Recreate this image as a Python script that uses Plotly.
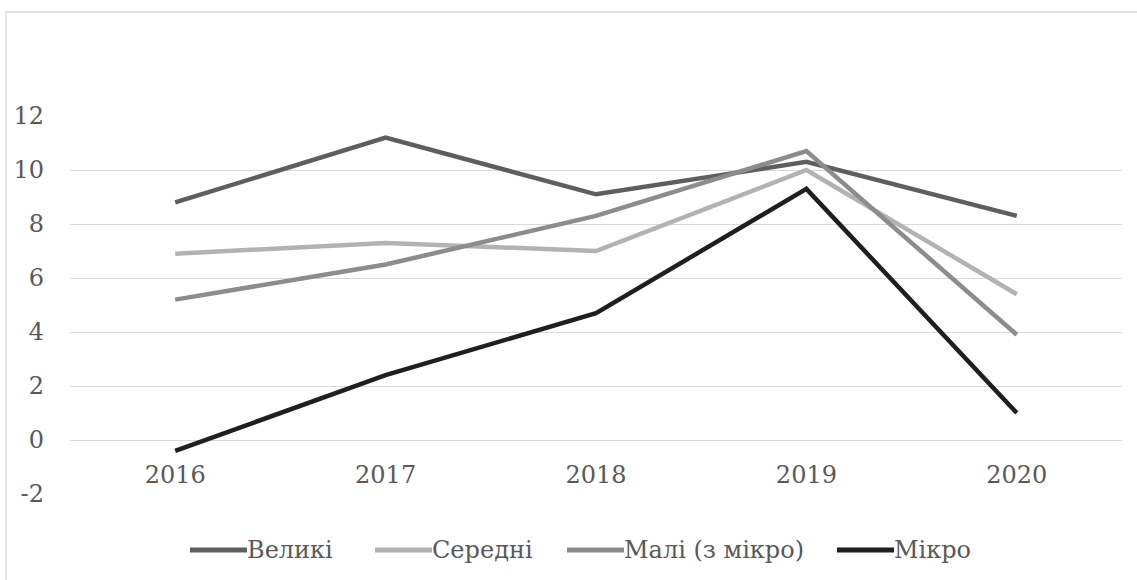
import plotly.graph_objects as go

years = ["2016", "2017", "2018", "2019", "2020"]
velyki = [8.8, 11.2, 9.1, 10.3, 8.3]
seredni = [6.9, 7.3, 7.0, 10.0, 5.4]
mali = [5.2, 6.5, 8.3, 10.7, 3.9]
mikro = [-0.4, 2.4, 4.7, 9.3, 1.0]

y_tickvals = [-2, 0, 2, 4, 6, 8, 10, 12]
y_ticktext = ["-2", "0", "2", "4", "6", "8", "10", "12"]

series_names = ["Великі", "Середні", "Малі (з мікро)", "Мікро"]
series_values = [velyki, seredni, mali, mikro]
series_colors = ["#5e5e5e", "#b2b2b2", "#8c8c8c", "#1f1f1f"]

FONT = "DejaVu Serif"
TXT = "#595959"

fig = go.Figure()
for name, vals, col in zip(series_names, series_values, series_colors):
    fig.add_trace(go.Scatter(x=years, y=vals, name=name, mode="lines",
                             line=dict(color=col, width=4.5), showlegend=False))

W, H = 1137, 580
l, r, t, b = 70, 15, 116, 86
pw = W - l - r
ph = H - t - b

def px_x(x):
    return (x - l) / pw

def px_y(y):
    return (H - b - y) / ph

shapes = [dict(type="rect", xref="paper", yref="paper",
               x0=px_x(6), x1=px_x(1150), y0=px_y(600), y1=px_y(12),
               line=dict(color="#d9d9d9", width=1.3), fillcolor="rgba(0,0,0,0)",
               layer="below")]
annotations = []

# Excel-style legend: long line sample followed directly by its label
legend_y = 550
legend_starts = [190, 375, 567, 837]
sample_len = 57
for name, col, x0 in zip(series_names, series_colors, legend_starts):
    shapes.append(dict(type="line", xref="paper", yref="paper",
                       x0=px_x(x0), x1=px_x(x0 + sample_len),
                       y0=px_y(legend_y), y1=px_y(legend_y),
                       line=dict(color=col, width=5)))
    annotations.append(dict(xref="paper", yref="paper", x=px_x(x0 + sample_len),
                            y=px_y(legend_y), xanchor="left", yanchor="middle",
                            text=name, showarrow=False, xshift=-2,
                            font=dict(family=FONT, size=24, color=TXT)))

fig.update_layout(
    width=W, height=H,
    margin=dict(l=l, r=r, t=t, b=b),
    paper_bgcolor="white", plot_bgcolor="white",
    font=dict(family=FONT, size=24, color=TXT),
    showlegend=False,
    xaxis=dict(type="category", anchor="free", position=1/7, showgrid=False,
               showline=False, ticks="", zeroline=False, ticklabelstandoff=18,
               range=[-0.5, 4.5]),
    yaxis=dict(range=[-2, 12], tickvals=y_tickvals, ticktext=y_ticktext,
               showgrid=True, gridcolor="#d9d9d9", gridwidth=1.3,
               zeroline=False, showline=False, ticks="", ticklabelstandoff=25),
    shapes=shapes,
    annotations=annotations,
)

fig.write_html("out.html", config={"displayModeBar": False},
               post_script="document.body.style.margin='0';document.body.style.padding='0';")
